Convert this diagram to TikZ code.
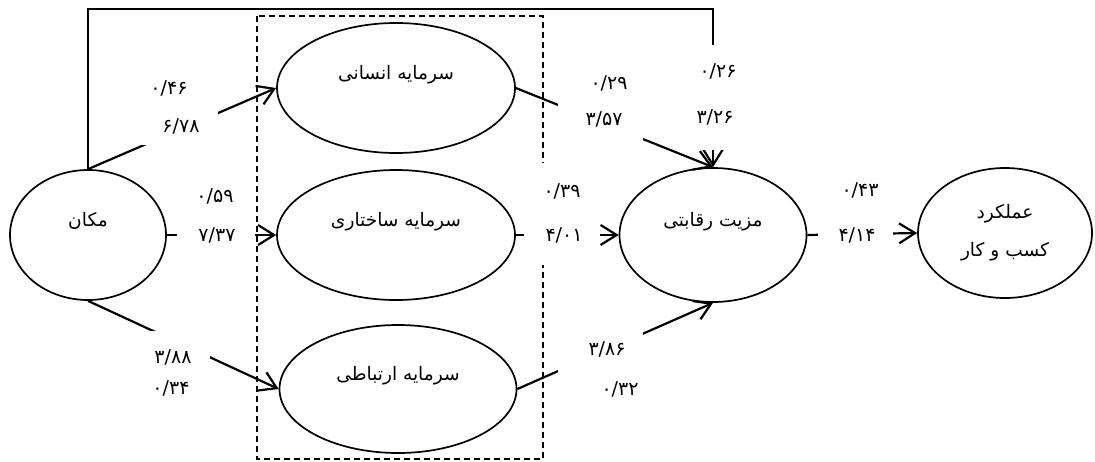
\documentclass[tikz,border=0pt]{standalone}
\usepackage{fontspec}
\usetikzlibrary{shapes.geometric,arrows.meta}
\newfontfamily\fa[Script=Arabic]{DejaVu Sans}
\TeXXeTstate=1
\newcommand{\rtl}[1]{\beginR#1\endR}
\tikzset{
  latent/.style={draw, ellipse, line width=0.85pt, font=\fa\fontsize{9.3}{11}\selectfont},
  lift/.style={text height=9pt, text depth=18pt},
  link/.style={line width=1.1pt, -{Straight Barb[length=8pt,width=10pt]}},
  mask/.style={fill=white, inner sep=0pt},
  coef/.style={font=\fa\fontsize{9.5}{11}\selectfont, inner sep=0pt},
  group/.style={draw, dash pattern=on 3pt off 2pt, line width=0.8pt},
}

\begin{document}
\begin{tikzpicture}[x=0.5pt, y=-0.5pt]
  \useasboundingbox (0,0) rectangle (1095,461);

  % intellectual capital group
  \draw[group] (257,16) rectangle (543,459);

  \node[latent, lift, minimum width=78pt, minimum height=65pt] (makan) at (88,235) {\rtl{مکان}};
  \node[latent, lift, minimum width=119pt, minimum height=65pt] (ensani) at (396,88) {\rtl{سرمایه انسانی}};
  \node[latent, lift, minimum width=119pt, minimum height=65pt] (sakhtari) at (396,235) {\rtl{سرمایه ساختاری}};
  \node[latent, lift, minimum width=118.5pt, minimum height=64pt] (ertebati) at (398,389) {\rtl{سرمایه ارتباطی}};
  \node[latent, lift, minimum width=93.5pt, minimum height=67pt] (raqabati) at (713,235) {\rtl{مزیت رقابتی}};
  \node[latent, align=center, minimum width=87pt, minimum height=65pt] (amalkard) at (1005,233) {\rtl{عملکرد}\\[8pt]\rtl{کسب و کار}};
  \coordinate (top) at (400,9);

  \draw[link] (makan.north) -- (ensani.west);
  \draw[link] (makan.east) -- (sakhtari.west);
  \draw[link] (makan.south) -- (ertebati.west);
  \draw[link] (ensani.east) -- (raqabati.north);
  \draw[link] (sakhtari.east) -- (raqabati.west);
  \draw[link] (ertebati.east) -- (raqabati.south);
  \draw[link] (raqabati.east) -- (amalkard.west);
  \draw[link] (makan.north) |- (top) -| (raqabati.north);

  % white boxes behind the coefficients
  \node[mask, minimum width=42pt, minimum height=37pt] (m1) at (176,108) {};
  \node[mask, minimum width=39pt, minimum height=40pt] (m2) at (216,215) {};
  \node[mask, minimum width=38pt, minimum height=35pt] (m3) at (172,366) {};
  \node[mask, minimum width=42.5pt, minimum height=41pt] (m4) at (600,100) {};
  \node[mask, minimum width=38pt, minimum height=51pt] (m5) at (562,214) {};
  \node[mask, minimum width=42.5pt, minimum height=37pt] (m6) at (600,368) {};
  \node[mask, minimum width=37.5pt, minimum height=42.5pt] (m7) at (855,212) {};
  \node[mask, minimum width=28pt, minimum height=52.5pt] (m8) at (717,97) {};

  % coefficients
  \node[coef] (c1a) at (169,88) {۰/۴۶};
  \node[coef] (c1b) at (181,126) {۶/۷۸};
  \node[coef] (c2a) at (215,196) {۰/۵۹};
  \node[coef] (c2b) at (217,235) {۷/۳۷};
  \node[coef] (c3a) at (173,357) {۳/۸۸};
  \node[coef] (c3b) at (171,388) {۰/۳۴};
  \node[coef] (c4a) at (609,83) {۰/۲۹};
  \node[coef] (c4b) at (604,119) {۳/۵۷};
  \node[coef] (c5a) at (562,191) {۰/۳۹};
  \node[coef] (c5b) at (564,235) {۴/۰۱};
  \node[coef] (c6a) at (607,349) {۳/۸۶};
  \node[coef] (c6b) at (620,389) {۰/۳۲};
  \node[coef] (c7a) at (860,190) {۰/۴۳};
  \node[coef] (c7b) at (857,235) {۴/۱۴};
  \node[coef] (c8a) at (718,71) {۰/۲۶};
  \node[coef] (c8b) at (715,117) {۳/۲۶};
\end{tikzpicture}
\end{document}
